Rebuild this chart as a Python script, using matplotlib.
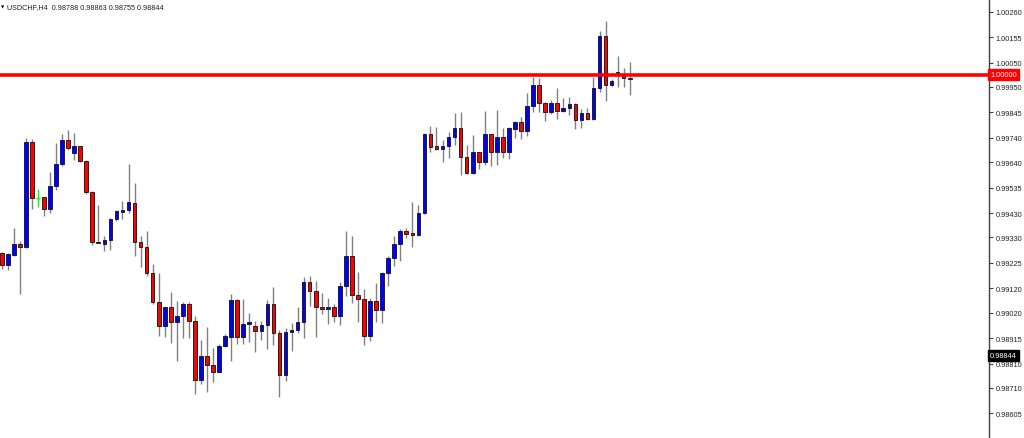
import matplotlib
matplotlib.use("Agg")
import matplotlib.pyplot as plt

symbol_info = "USDCHF,H4  0.98788 0.98863 0.98755 0.98844"

opens = [0.99266, 0.99216, 0.99259, 0.99304, 0.99289, 0.99724, 0.99492, 0.99497, 0.99446, 0.99541,
         0.99634, 0.99733, 0.99679, 0.99706, 0.99644, 0.99519, 0.99311, 0.99304, 0.99318, 0.99404,
         0.99435, 0.99443, 0.99472, 0.99310, 0.99289, 0.99182, 0.99063, 0.98964, 0.99045, 0.98980,
         0.99008, 0.99057, 0.98984, 0.98744, 0.98843, 0.98804, 0.98777, 0.98881, 0.98921, 0.99073,
         0.98921, 0.98973, 0.98965, 0.98944, 0.98970, 0.99056, 0.98937, 0.98763, 0.98939, 0.98949,
         0.98980, 0.99145, 0.99110, 0.99045, 0.99035, 0.99043, 0.99008, 0.99129, 0.99252, 0.99094,
         0.99076, 0.98925, 0.99067, 0.99031, 0.99182, 0.99244, 0.99302, 0.99355, 0.99348, 0.99342,
         0.99431, 0.99756, 0.99706, 0.99694, 0.99706, 0.99745, 0.99782, 0.99663, 0.99594, 0.99681,
         0.99642, 0.99755, 0.99683, 0.99745, 0.99681, 0.99777, 0.99804, 0.99770, 0.99870, 0.99958,
         0.99883, 0.99848, 0.99884, 0.99852, 0.99864, 0.99881, 0.99814, 0.99841, 0.99818, 0.99947,
         1.00161, 0.99958, 0.99999, 1.00003, 0.99986]
highs = [0.99270, 0.99266, 0.99370, 0.99315, 0.99738, 0.99736, 0.99530, 0.99497, 0.99601, 0.99719,
         0.99755, 0.99774, 0.99760, 0.99706, 0.99650, 0.99522, 0.99464, 0.99337, 0.99411, 0.99444,
         0.99481, 0.99632, 0.99554, 0.99336, 0.99358, 0.99221, 0.99182, 0.99045, 0.99104, 0.99067,
         0.99065, 0.99063, 0.99008, 0.98909, 0.98962, 0.98873, 0.98891, 0.98932, 0.99097, 0.99075,
         0.99076, 0.99017, 0.98987, 0.98987, 0.99073, 0.99125, 0.98950, 0.98957, 0.98977, 0.99043,
         0.99167, 0.99172, 0.99152, 0.99100, 0.99082, 0.99056, 0.99145, 0.99355, 0.99336, 0.99189,
         0.99118, 0.99080, 0.99142, 0.99189, 0.99255, 0.99336, 0.99365, 0.99368, 0.99475, 0.99464,
         0.99760, 0.99788, 0.99786, 0.99733, 0.99763, 0.99843, 0.99846, 0.99711, 0.99752, 0.99683,
         0.99850, 0.99757, 0.99855, 0.99780, 0.99784, 0.99811, 0.99826, 0.99925, 0.99990, 0.99986,
         0.99889, 0.99897, 0.99944, 0.99903, 0.99907, 0.99883, 0.99859, 0.99864, 0.99990, 1.00180,
         1.00222, 0.99983, 1.00076, 1.00027, 1.00052]
lows = [0.99200, 0.99196, 0.99255, 0.99097, 0.99287, 0.99447, 0.99454, 0.99417, 0.99429, 0.99525,
        0.99626, 0.99691, 0.99648, 0.99640, 0.99508, 0.99299, 0.99305, 0.99274, 0.99279, 0.99396,
        0.99406, 0.99429, 0.99255, 0.99207, 0.99172, 0.99055, 0.98925, 0.98919, 0.98895, 0.98820,
        0.98914, 0.98914, 0.98685, 0.98726, 0.98692, 0.98736, 0.98775, 0.98878, 0.98822, 0.98891,
        0.98891, 0.98900, 0.98859, 0.98909, 0.98870, 0.98888, 0.98672, 0.98737, 0.98863, 0.98936,
        0.98914, 0.99049, 0.98919, 0.99015, 0.98973, 0.98980, 0.98969, 0.99090, 0.99060, 0.98983,
        0.98888, 0.98905, 0.98980, 0.98977, 0.99131, 0.99211, 0.99234, 0.99326, 0.99289, 0.99337,
        0.99427, 0.99681, 0.99691, 0.99642, 0.99658, 0.99711, 0.99588, 0.99591, 0.99591, 0.99612,
        0.99628, 0.99626, 0.99628, 0.99656, 0.99653, 0.99740, 0.99736, 0.99746, 0.99848, 0.99846,
        0.99811, 0.99839, 0.99818, 0.99848, 0.99834, 0.99777, 0.99782, 0.99814, 0.99815, 0.99928,
        0.99893, 0.99954, 0.99949, 0.99949, 0.99917]
closes = [0.99216, 0.99262, 0.99303, 0.99289, 0.99724, 0.99491, 0.99492, 0.99447, 0.99541, 0.99634,
          0.99733, 0.99698, 0.99706, 0.99644, 0.99519, 0.99310, 0.99307, 0.99321, 0.99406, 0.99438,
          0.99444, 0.99475, 0.99310, 0.99289, 0.99182, 0.99063, 0.98964, 0.99045, 0.98980, 0.99008,
          0.99055, 0.98984, 0.98744, 0.98843, 0.98804, 0.98777, 0.98881, 0.98925, 0.99073, 0.98921,
          0.98973, 0.98980, 0.98944, 0.98970, 0.99056, 0.98937, 0.98763, 0.98939, 0.98949, 0.98980,
          0.99145, 0.99110, 0.99045, 0.99035, 0.99043, 0.99008, 0.99129, 0.99252, 0.99094, 0.99076,
          0.98923, 0.99067, 0.99031, 0.99182, 0.99244, 0.99302, 0.99355, 0.99345, 0.99342, 0.99431,
          0.99756, 0.99701, 0.99694, 0.99706, 0.99745, 0.99782, 0.99663, 0.99594, 0.99681, 0.99642,
          0.99755, 0.99683, 0.99743, 0.99683, 0.99780, 0.99804, 0.99770, 0.99870, 0.99958, 0.99883,
          0.99848, 0.99884, 0.99852, 0.99864, 0.99881, 0.99814, 0.99841, 0.99818, 0.99947, 1.00161,
          0.99958, 0.99976, 1.00010, 0.99986, 0.99984]

price_ticks = [1.00260, 1.00155, 1.00050, 0.99950, 0.99845, 0.99740, 0.99640, 0.99535, 0.99430,
               0.99330, 0.99225, 0.99120, 0.99020, 0.98915, 0.98810, 0.98710, 0.98605]
level_price = 1.00000
bid_price = 0.98844


def candle_color(o, c):
    if c > o:
        return "#0000ff"
    elif c < o:
        return "#ff0000"
    return "#00ff00"


def draw_candles(ax):
    xs = list(range(len(opens)))
    for x, o, h, l, c in zip(xs, opens, highs, lows, closes):
        color = candle_color(o, c)
        if color == "#00ff00":
            # doji drawn as a cross
            ax.vlines(x, l, h, color=color, lw=1, zorder=2)
            ax.hlines(o, x - 0.3, x + 0.3, color=color, lw=1, zorder=2)
            continue
        ax.vlines(x, l, h, color="#808080", lw=1, zorder=1)
        bottom = min(o, c)
        height = max(abs(c - o), 0.00003)
        ax.bar(x, height, bottom=bottom, width=0.6, color=color,
               edgecolor="#202020", linewidth=0.7, zorder=2)


fig = plt.figure(figsize=(10.24, 4.39), dpi=100)
ax = fig.add_axes([0, 0, 989 / 1024, 1])

draw_candles(ax)

# support / resistance level
ax.axhline(level_price, color="#ff0000", lw=2.6, zorder=3)

ax.set_xlim(-0.28, 163.5)
ax.set_ylim(0.985036, 1.003123)

for side in ["top", "left", "bottom"]:
    ax.spines[side].set_visible(False)
ax.spines["right"].set_color("#404040")
ax.spines["right"].set_linewidth(1)

ax.set_xticks([])
ax.yaxis.tick_right()
ax.set_yticks(price_ticks)
ax.set_yticklabels([f"{p:.5f}" for p in price_ticks])
ax.tick_params(axis="y", direction="out", length=3, width=0.8, color="#404040",
               labelsize=5.3, labelcolor="#202020", pad=1.5)
for lbl in ax.get_yticklabels():
    lbl.set_fontfamily("Liberation Sans")

# price tags on the axis
ax.text(1.001, level_price, f"{level_price:.5f}", transform=ax.get_yaxis_transform(),
        ha="left", va="center", fontsize=5.3, color="white", family="Liberation Sans",
        bbox=dict(boxstyle="square,pad=0.25", fc="#ff0000", ec="#ff0000"), clip_on=False)
ax.text(1.001, bid_price, f"{bid_price:.5f}", transform=ax.get_yaxis_transform(),
        ha="left", va="center", fontsize=5.3, color="white", family="Liberation Sans",
        bbox=dict(boxstyle="square,pad=0.25", fc="black", ec="black"), clip_on=False)

# symbol header
ax.text(0.001, 0.988, "\u25bc", transform=ax.transAxes, ha="left", va="top",
        fontsize=3, color="black")
ax.text(0.0075, 0.99, symbol_info, transform=ax.transAxes, ha="left", va="top",
        fontsize=5.2, color="#202020", family="Liberation Sans")

fig.savefig("out.png", dpi=100)
